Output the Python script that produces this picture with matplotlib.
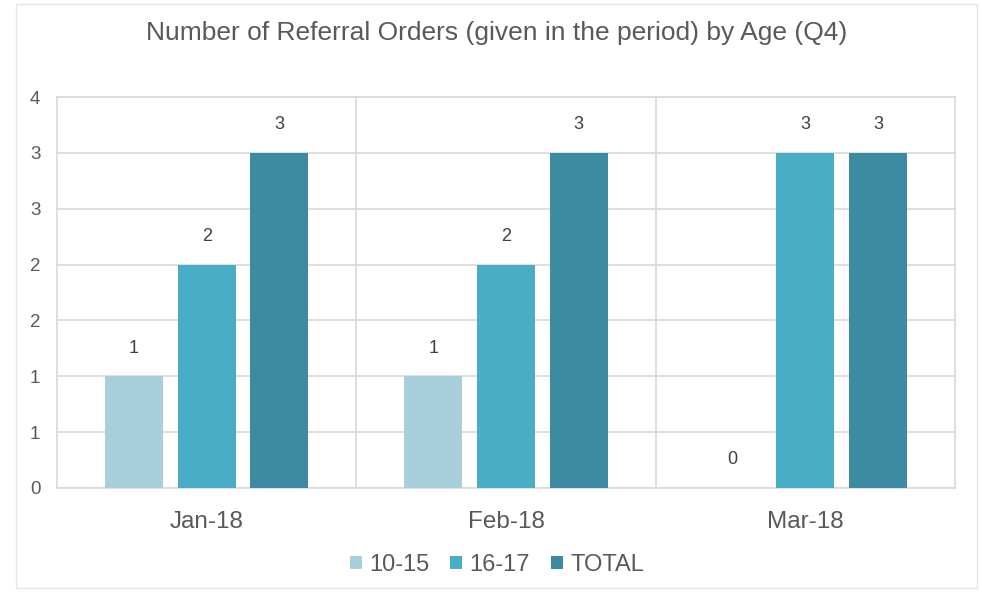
import matplotlib.pyplot as plt
import numpy as np
from matplotlib.patches import Rectangle
from matplotlib.ticker import FuncFormatter
import math

plt.rcParams['font.family'] = ['Liberation Sans', 'DejaVu Sans']

# data
months = ['Jan-18', 'Feb-18', 'Mar-18']
series = ['10-15', '16-17', 'TOTAL']
age_10_15 = [1, 1, 0]
age_16_17 = [2, 2, 3]
total = [3, 3, 3]
colors = ['#A9CEDC', '#4AADC6', '#3C8BA2']
txt = '#595959'
grid = '#D9D9D9'

fig = plt.figure(figsize=(9.82, 5.92), dpi=100)
# outer chart border
fig.patches.append(Rectangle((16/982, 4/592), 961/982, 584/592, transform=fig.transFigure,
                             fill=False, edgecolor='#E6E6E6', linewidth=1))
ax = fig.add_axes([57/982, 1-488/592, 898/982, 391/592])

x = np.arange(len(months))
w = 0.194
off = 0.2425
for i, (vals, name) in enumerate(zip([age_10_15, age_16_17, total], series)):
    pos = x + (i - 1) * off
    ax.bar(pos, vals, width=w, color=colors[i], label=name, zorder=3)
    for p, v in zip(pos, vals):
        ax.annotate(str(v), (p, v), xytext=(0, 28), textcoords='offset pixels',
                    ha='center', va='center', fontsize=13, color='#404040')

ax.set_xlim(-0.5, 2.5)
ax.set_ylim(0, 3.5)
ax.set_yticks(np.arange(0, 3.51, 0.5))
ax.yaxis.set_major_formatter(FuncFormatter(lambda v, p: str(int(math.floor(v + 0.5)))))
ax.yaxis.grid(True, color=grid, linewidth=1.2, zorder=0)
# category separators
for b in [0.5, 1.5]:
    ax.axvline(b, color=grid, linewidth=1.2, zorder=0)
ax.set_xticks(x)
ax.set_xticklabels(months, fontsize=17.5, color=txt)
ax.tick_params(axis='x', length=0, pad=16.5)
ax.tick_params(axis='y', length=0, pad=12, labelsize=13.5, labelcolor=txt)
for s in ax.spines.values():
    s.set_color(grid)
    s.set_linewidth(1.2)

fig.text(497/982, 1-33/592, 'Number of Referral Orders (given in the period) by Age (Q4)',
         fontsize=19, color=txt, ha='center', va='center')

fig.legend(loc='center', bbox_to_anchor=(497/982, 1-565/592), ncol=3, frameon=False,
           fontsize=17, handlelength=0.5, handleheight=0.5, handletextpad=0.3,
           columnspacing=0.9, labelcolor=txt)

fig.savefig('out.png', dpi=100)
